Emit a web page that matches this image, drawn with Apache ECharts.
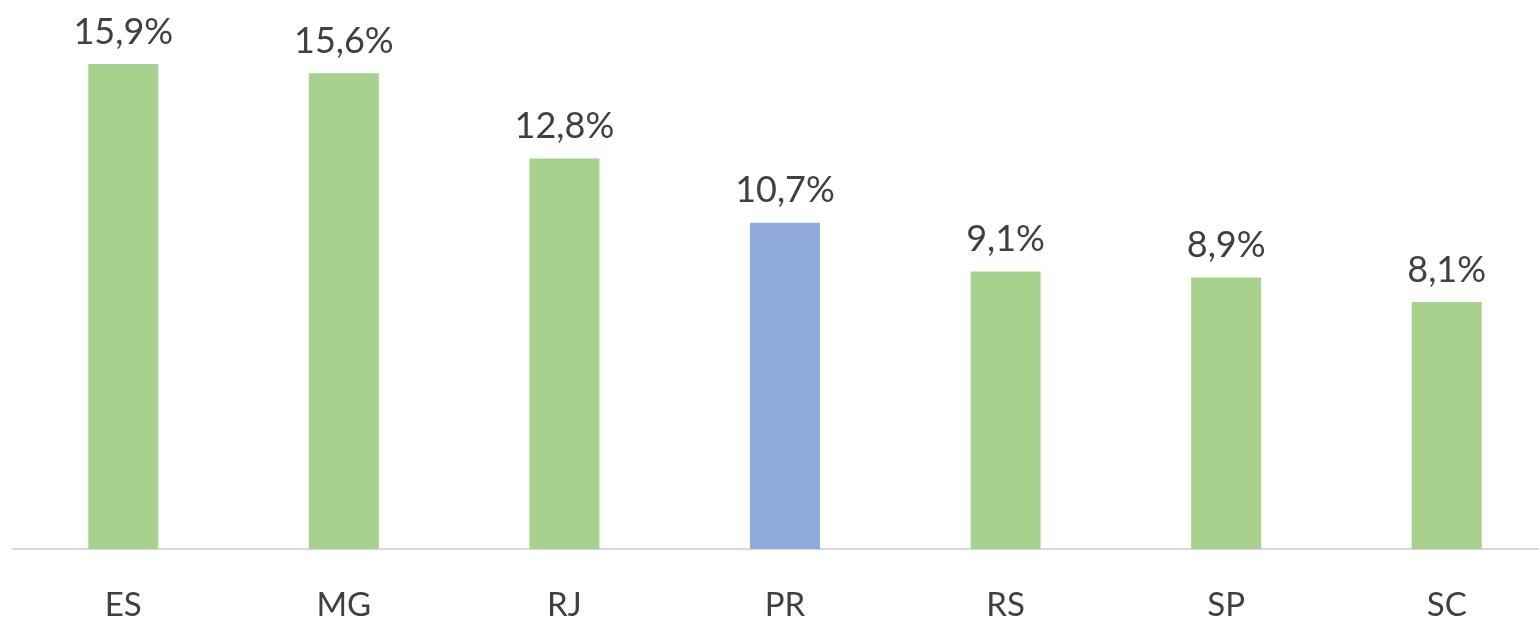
<!DOCTYPE html>
<html>
<head>
<meta charset="utf-8">
<script src="https://cdn.jsdelivr.net/npm/echarts@6/dist/echarts.min.js"></script>
<style>
  html, body { margin: 0; padding: 0; background: #fff; }
  #chart { width: 1539px; height: 618px; }
</style>
</head>
<body>
<div id="chart"></div>
<script>
// estados e percentuais
const states = ["ES", "MG", "RJ", "PR", "RS", "SP", "SC"];
const values = [15.9, 15.6, 12.8, 10.7, 9.1, 8.9, 8.1];
const highlight = "PR"; // barra em azul

const green = "#a9d18e";
const blue = "#8faadc";

const chart = echarts.init(document.getElementById("chart"));
chart.setOption({
  animation: false,
  textStyle: { fontFamily: "Lato" },
  grid: {
    left: 13,
    right: -18,
    top: 61,
    bottom: 69,
    outerBoundsMode: "none",
    containLabel: false
  },
  xAxis: {
    type: "category",
    data: states,
    axisTick: { show: false },
    axisLine: { lineStyle: { color: "#d9d9d9", width: 2 } },
    axisLabel: {
      color: "#404040",
      fontSize: 33,
      margin: 40
    }
  },
  yAxis: {
    type: "value",
    min: 0,
    max: 16,
    show: false,
    splitLine: { show: false }
  },
  series: [
    {
      type: "bar",
      barWidth: 70,
      data: values.map((v, i) => ({
        value: v,
        itemStyle: { color: states[i] === highlight ? blue : green }
      })),
      label: {
        show: true,
        position: "top",
        distance: 14,
        color: "#404040",
        fontSize: 36,
        formatter: p => p.value.toFixed(1).replace(".", ",") + "%"
      }
    }
  ]
});
</script>
</body>
</html>
